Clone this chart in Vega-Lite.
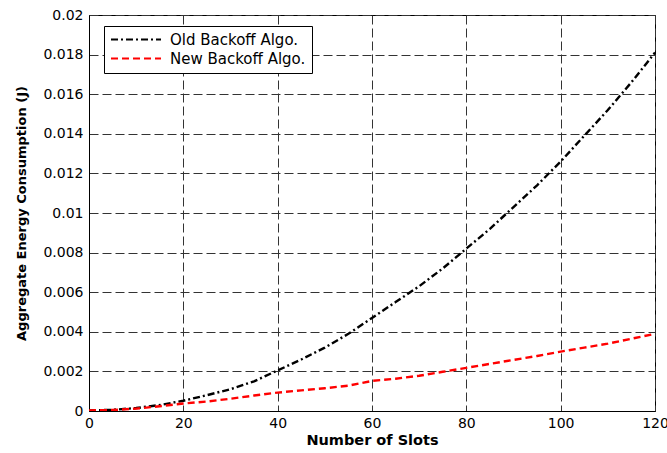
{
  "$schema": "https://vega.github.io/schema/vega-lite/v6.json",
  "width": 566,
  "height": 396,
  "autosize": {"type": "none"},
  "padding": {"left": 89, "top": 15, "right": 12, "bottom": 42},
  "background": "white",
  "config": {
    "font": "DejaVu Sans",
    "view": {"stroke": "black", "strokeWidth": 1}
  },
  "data": {
    "values": [
      {"slots": 0, "energy": 0.00003, "algo": "Old Backoff Algo."},
      {"slots": 5, "energy": 0.00006, "algo": "Old Backoff Algo."},
      {"slots": 10, "energy": 0.00015, "algo": "Old Backoff Algo."},
      {"slots": 15, "energy": 0.0003, "algo": "Old Backoff Algo."},
      {"slots": 20, "energy": 0.00052, "algo": "Old Backoff Algo."},
      {"slots": 25, "energy": 0.0008, "algo": "Old Backoff Algo."},
      {"slots": 30, "energy": 0.0011, "algo": "Old Backoff Algo."},
      {"slots": 35, "energy": 0.0015, "algo": "Old Backoff Algo."},
      {"slots": 40, "energy": 0.00205, "algo": "Old Backoff Algo."},
      {"slots": 45, "energy": 0.0026, "algo": "Old Backoff Algo."},
      {"slots": 50, "energy": 0.0032, "algo": "Old Backoff Algo."},
      {"slots": 55, "energy": 0.0039, "algo": "Old Backoff Algo."},
      {"slots": 60, "energy": 0.0047, "algo": "Old Backoff Algo."},
      {"slots": 65, "energy": 0.0055, "algo": "Old Backoff Algo."},
      {"slots": 70, "energy": 0.0063, "algo": "Old Backoff Algo."},
      {"slots": 75, "energy": 0.0072, "algo": "Old Backoff Algo."},
      {"slots": 80, "energy": 0.0082, "algo": "Old Backoff Algo."},
      {"slots": 85, "energy": 0.0092, "algo": "Old Backoff Algo."},
      {"slots": 90, "energy": 0.0103, "algo": "Old Backoff Algo."},
      {"slots": 95, "energy": 0.0114, "algo": "Old Backoff Algo."},
      {"slots": 100, "energy": 0.0126, "algo": "Old Backoff Algo."},
      {"slots": 105, "energy": 0.0139, "algo": "Old Backoff Algo."},
      {"slots": 110, "energy": 0.0152, "algo": "Old Backoff Algo."},
      {"slots": 115, "energy": 0.0166, "algo": "Old Backoff Algo."},
      {"slots": 120, "energy": 0.0181, "algo": "Old Backoff Algo."},
      {"slots": 0, "energy": 0.00003, "algo": "New Backoff Algo."},
      {"slots": 5, "energy": 0.00005, "algo": "New Backoff Algo."},
      {"slots": 10, "energy": 0.00012, "algo": "New Backoff Algo."},
      {"slots": 15, "energy": 0.00024, "algo": "New Backoff Algo."},
      {"slots": 20, "energy": 0.00038, "algo": "New Backoff Algo."},
      {"slots": 25, "energy": 0.00048, "algo": "New Backoff Algo."},
      {"slots": 30, "energy": 0.00062, "algo": "New Backoff Algo."},
      {"slots": 35, "energy": 0.00078, "algo": "New Backoff Algo."},
      {"slots": 40, "energy": 0.00093, "algo": "New Backoff Algo."},
      {"slots": 45, "energy": 0.00104, "algo": "New Backoff Algo."},
      {"slots": 50, "energy": 0.00115, "algo": "New Backoff Algo."},
      {"slots": 55, "energy": 0.00128, "algo": "New Backoff Algo."},
      {"slots": 60, "energy": 0.00152, "algo": "New Backoff Algo."},
      {"slots": 65, "energy": 0.00163, "algo": "New Backoff Algo."},
      {"slots": 70, "energy": 0.00178, "algo": "New Backoff Algo."},
      {"slots": 75, "energy": 0.00198, "algo": "New Backoff Algo."},
      {"slots": 80, "energy": 0.00218, "algo": "New Backoff Algo."},
      {"slots": 85, "energy": 0.00238, "algo": "New Backoff Algo."},
      {"slots": 90, "energy": 0.00258, "algo": "New Backoff Algo."},
      {"slots": 95, "energy": 0.00278, "algo": "New Backoff Algo."},
      {"slots": 100, "energy": 0.003, "algo": "New Backoff Algo."},
      {"slots": 105, "energy": 0.0032, "algo": "New Backoff Algo."},
      {"slots": 110, "energy": 0.0034, "algo": "New Backoff Algo."},
      {"slots": 115, "energy": 0.00365, "algo": "New Backoff Algo."},
      {"slots": 120, "energy": 0.0039, "algo": "New Backoff Algo."}
    ]
  },
  "mark": {"type": "line", "strokeWidth": 2.4, "clip": true},
  "encoding": {
    "x": {
      "field": "slots",
      "type": "quantitative",
      "scale": {"domain": [0, 120], "nice": false},
      "axis": {
        "title": "Number of Slots",
        "values": [0, 20, 40, 60, 80, 100, 120],
        "titleFont": "DejaVu Sans",
        "titleFontSize": 14.5,
        "titleFontWeight": "bold",
        "titleColor": "black",
        "titlePadding": 3,
        "labelFontSize": 14,
        "labelColor": "black",
        "labelPadding": 5,
        "labelFlush": false,
        "labelOverlap": false,
        "ticks": false,
        "domainColor": "black",
        "grid": true,
        "gridColor": "#333333",
        "gridDash": [9, 4],
        "gridWidth": 1,
        "gridOpacity": 1
      }
    },
    "y": {
      "field": "energy",
      "type": "quantitative",
      "scale": {"domain": [0, 0.02], "nice": false},
      "axis": {
        "title": "Aggregate  Energy Consumption (J)",
        "values": [0, 0.002, 0.004, 0.006, 0.008, 0.01, 0.012, 0.014, 0.016, 0.018, 0.02],
        "format": "~g",
        "titleFontSize": 13,
        "titleFontWeight": "bold",
        "titleColor": "black",
        "titlePadding": 14,
        "labelFontSize": 14,
        "labelColor": "black",
        "labelPadding": 6,
        "labelFlush": false,
        "labelOverlap": false,
        "ticks": false,
        "domainColor": "black",
        "grid": true,
        "gridColor": "#333333",
        "gridDash": [9, 4],
        "gridWidth": 1,
        "gridOpacity": 1
      }
    },
    "color": {
      "field": "algo",
      "type": "nominal",
      "scale": {"domain": ["Old Backoff Algo.", "New Backoff Algo."], "range": ["black", "#ff0000"]},
      "legend": {
        "title": null,
        "orient": "none",
        "legendX": 15,
        "legendY": 11,
        "direction": "vertical",
        "fillColor": "white",
        "strokeColor": "black",
        "padding": 6,
        "rowPadding": 3,
        "clipHeight": 15,
        "symbolType": "stroke",
        "symbolSize": 2500,
        "symbolStrokeWidth": 2,
        "labelFontSize": 15,
        "labelColor": "black",
        "labelOffset": 8,
        "labelLimit": 300
      }
    },
    "strokeDash": {
      "field": "algo",
      "type": "nominal",
      "scale": {"domain": ["Old Backoff Algo.", "New Backoff Algo."], "range": [[7, 3, 2, 3], [7, 4]]},
      "legend": null
    }
  }
}
